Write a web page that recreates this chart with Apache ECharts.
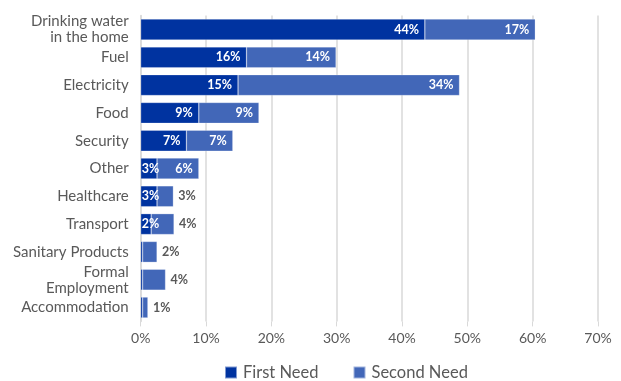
<!DOCTYPE html>
<html>
<head>
<meta charset="utf-8">
<script src="https://cdn.jsdelivr.net/npm/echarts@6/dist/echarts.min.js"></script>
<style>html,body{margin:0;padding:0;background:#fff}#c{width:621px;height:381px}</style>
</head>
<body>
<div id="c"></div>
<script>
const categories = ["Drinking water\nin the home","Fuel","Electricity","Food","Security","Other","Healthcare","Transport","Sanitary Products","Formal\nEmployment","Accommodation"];
const firstNeed = [43.5,16.2,14.9,8.9,7.0,2.5,2.5,1.6,0.3,0.3,0.3];
const secondNeed = [16.9,13.7,33.9,9.2,7.1,6.4,2.5,3.5,2.2,3.5,0.8];
const xTicks = [0,10,20,30,40,50,60,70];

const FONT = "Lato, 'Open Sans', sans-serif";
const GRAY = "#595959";
const C1 = "#0033A0";
const C2 = "#4267B8";

const firstData = firstNeed.map(v => ({
  value: v,
  label: v < 1 ? {show:false} : (v < 4 ? {position:'insideLeft', distance:1} : {})
}));
const secondData = secondNeed.map(v => ({
  value: v,
  label: v < 5 ? {position:'right', color:GRAY, distance:5} : {}
}));

const chart = echarts.init(document.getElementById('c'), null, {renderer:'canvas'});
chart.setOption({
  animation:false,
  textStyle:{fontFamily:FONT},
  grid:{left:140.7, right:23, top:15.6, bottom:59.6},
  xAxis:{
    type:'value', min:0, max:70, interval:10,
    axisLine:{show:false},
    axisTick:{show:true, length:5, lineStyle:{color:'#d9d9d9'}},
    splitLine:{show:true, lineStyle:{color:'#d9d9d9', width:1.5}},
    axisLabel:{formatter: v => xTicks.includes(v) ? v + '%' : '', color:GRAY, fontSize:14, fontFamily:FONT, margin:10}
  },
  yAxis:{
    type:'category', inverse:true, data:categories,
    axisLine:{show:true, lineStyle:{color:'#d9d9d9', width:1.5}},
    axisTick:{show:false},
    axisLabel:{color:GRAY, fontSize:15, fontFamily:FONT, lineHeight:16, margin:12}
  },
  legend:{
    left:219, top:359, itemWidth:12, itemHeight:12, itemGap:34,
    icon:'rect',
    textStyle:{color:GRAY, fontSize:16.5, fontFamily:FONT, padding:[0,0,0,1]},
    data:['First Need','Second Need']
  },
  series:[
    {
      name:'First Need', type:'bar', stack:'t', data:firstData, barCategoryGap:'25%',
      itemStyle:{color:C1, borderColor:'rgba(255,255,255,0.5)', borderWidth:0.5},
      label:{show:true, position:'insideRight', distance:6, color:'#fff', fontWeight:'bold', fontSize:12.5, fontFamily:FONT,
        formatter: p => Math.round(p.value) + '%'}
    },
    {
      name:'Second Need', type:'bar', stack:'t', data:secondData,
      itemStyle:{color:C2, borderColor:'rgba(255,255,255,0.5)', borderWidth:0.5},
      label:{show:true, position:'insideRight', distance:6, color:'#fff', fontWeight:'bold', fontSize:12.5, fontFamily:FONT,
        formatter: p => Math.round(p.value) + '%'}
    }
  ]
});
</script>
</body>
</html>
